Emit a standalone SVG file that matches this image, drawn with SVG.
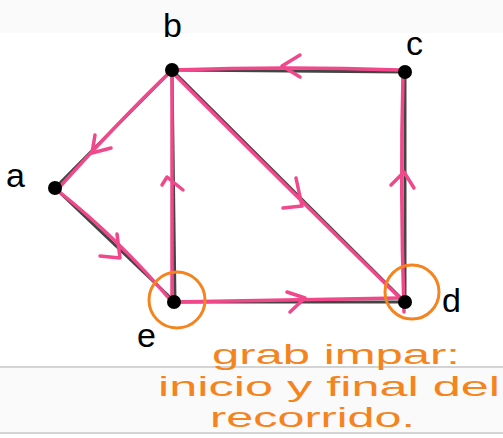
<svg xmlns="http://www.w3.org/2000/svg" width="503" height="438" viewBox="0 0 503 438">
<style>
.bg{fill:#fafafa}
.edge{stroke:#444;stroke-width:3;fill:none}
.pink{stroke:#f0488a;stroke-width:3.5;fill:none;stroke-linecap:round;stroke-linejoin:round}
.node{fill:#000}
.lbl{font-family:"Liberation Sans",sans-serif;font-size:34px;fill:#000}
.ring{stroke:#f5841f;stroke-width:3;fill:none}
.note{font-family:"Liberation Sans",sans-serif;font-size:28px;fill:#f5841f}
</style>
<rect x="0" y="0" width="503" height="438" fill="#fff"/>
<rect class="bg" x="0" y="0" width="503" height="33"/>
<rect class="bg" x="0" y="367" width="503" height="66"/>
<line x1="0" y1="367" x2="503" y2="367" stroke="#d4d4d4" stroke-width="2"/>
<line x1="0" y1="433" x2="503" y2="433" stroke="#d4d4d4" stroke-width="2"/>
<g id="connectors">
<line class="edge" x1="172" y1="70" x2="405" y2="72"/>
<line class="edge" x1="172" y1="70" x2="55" y2="188"/>
<line class="edge" x1="172" y1="70" x2="175" y2="302"/>
<line class="edge" x1="172" y1="70" x2="405" y2="302"/>
<line class="edge" x1="55" y1="188" x2="175" y2="302"/>
<line class="edge" x1="175" y1="302" x2="405" y2="302"/>
<line class="edge" x1="405" y1="72" x2="405" y2="302"/>
<path class="pink" d="M400 70 Q290 66 172 70"/>
<path class="pink" d="M300 55 L282 66 L300 77"/>
<path class="pink" d="M170 72 Q120 120 57 190"/>
<path class="pink" d="M95 135 L92 153 L111 148"/>
<path class="pink" d="M57 190 Q120 240 172 302"/>
<path class="pink" d="M117 234 L120 258 L100 256"/>
<path class="pink" d="M172 300 L172 70"/>
<path class="pink" d="M162 185 L167 177 L183 190"/>
<path class="pink" d="M172 72 Q290 190 402 300"/>
<path class="pink" d="M296 178 L302 206 L283 208"/>
<path class="pink" d="M172 302 Q290 300 400 298"/>
<path class="pink" d="M287 292 L305 298 L290 312"/>
<path class="pink" d="M404 312 Q400 190 403 74"/>
<path class="pink" d="M391 185 L404 172 L414 188"/>
</g>
<g id="b"><circle class="node" cx="172" cy="70" r="7"/><text class="lbl" x="163" y="37">b</text></g>
<g id="c"><circle class="node" cx="405" cy="72" r="7"/><text class="lbl" x="406" y="55">c</text></g>
<g id="a"><circle class="node" cx="55" cy="188" r="7"/><text class="lbl" x="6" y="187">a</text></g>
<g id="e"><circle class="node" cx="174" cy="302" r="7"/><circle class="ring" cx="177" cy="300" r="28"/><text class="lbl" x="137" y="347">e</text></g>
<g id="d"><circle class="node" cx="405" cy="302" r="7"/><circle class="ring" cx="412" cy="292" r="27"/><text class="lbl" x="442" y="312">d</text></g>
<g id="note">
<text class="note" x="212" y="364" textLength="248" lengthAdjust="spacingAndGlyphs">grab impar:</text>
<text class="note" x="158" y="396" textLength="342" lengthAdjust="spacingAndGlyphs">inicio y final del</text>
<text class="note" x="210" y="427" textLength="205" lengthAdjust="spacingAndGlyphs">recorrido.</text>
</g>
</svg>
